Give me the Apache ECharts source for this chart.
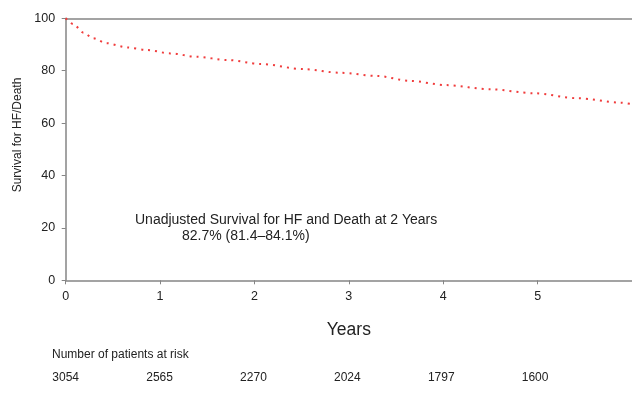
<!DOCTYPE html>
<html>
<head>
<meta charset="utf-8">
<script src="https://cdn.jsdelivr.net/npm/echarts@6/dist/echarts.min.js"></script>
<style>
html,body{margin:0;padding:0;background:#fff;}
#chart{width:632px;height:398px;}
</style>
</head>
<body>
<div id="chart"></div>
<script>
// Data
var years = [0, 0.08, 0.19, 0.29, 0.43, 0.65, 0.86, 1.11, 1.39, 1.71, 2.06, 2.52, 2.91, 3.30, 3.65, 4.03, 4.50, 4.96, 5.42, 5.88, 6.0];
var survival = [100, 97.8, 94.5, 92.4, 90.5, 88.9, 87.9, 86.6, 85.3, 84.1, 82.6, 80.6, 79.2, 78.0, 76.1, 74.5, 72.9, 71.4, 69.5, 67.8, 67.2];
var xTicks = [0, 1, 2, 3, 4, 5];
var yTicks = [0, 20, 40, 60, 80, 100];
var atRisk = [3054, 2565, 2270, 2024, 1797, 1600];
var atRiskTitle = 'Number of patients at risk';
var annotationLines = ['Unadjusted Survival for HF and Death at 2 Years', '82.7% (81.4\u201384.1%)'];

var FONT = '"Liberation Sans", Arial, Helvetica, sans-serif';
var TXT = '#222';
var AX = '#858585';

var chart = echarts.init(document.getElementById('chart'), null, {renderer: 'canvas'});

var option = {
  animation: false,
  backgroundColor: '#fff',
  textStyle: {fontFamily: FONT},
  grid: [
    {left: 65.7, right: 0, top: 18.3, bottom: 117.7, containLabel: false},
    {left: 65.7, right: 0, top: 368, height: 1, containLabel: false}
  ],
  xAxis: [
    {
      type: 'value', gridIndex: 0, min: 0, max: 6, interval: 1,
      name: 'Years', nameLocation: 'middle', nameGap: 41,
      nameTextStyle: {fontSize: 17.5, color: TXT, fontFamily: FONT},
      axisLine: {show: true, onZero: false, lineStyle: {color: AX, width: 1.5}},
      axisTick: {show: true, length: 4, customValues: xTicks, lineStyle: {color: AX, width: 1}},
      axisLabel: {
        fontSize: 12.5, color: TXT, fontFamily: FONT, margin: 10,
        customValues: xTicks,
        formatter: function (v) { return String(v); }
      },
      splitLine: {show: false}
    },
    {
      type: 'value', gridIndex: 0, position: 'top', min: 0, max: 6,
      axisLine: {show: true, onZero: false, lineStyle: {color: AX, width: 1.5}},
      axisTick: {show: false}, axisLabel: {show: false}, splitLine: {show: false}
    },
    {
      type: 'value', gridIndex: 1, min: 0, max: 6, interval: 1,
      axisLine: {show: false}, axisTick: {show: false}, splitLine: {show: false},
      axisLabel: {
        fontSize: 12, color: TXT, fontFamily: FONT, margin: 3,
        formatter: function (v) { return atRisk[v] !== undefined ? String(atRisk[v]) : ''; }
      }
    }
  ],
  yAxis: [
    {
      type: 'value', gridIndex: 0, min: 0, max: 100, interval: 20,
      axisLine: {show: true, onZero: false, lineStyle: {color: AX, width: 1.5}},
      axisTick: {show: true, length: 4, lineStyle: {color: AX, width: 1}},
      axisLabel: {
        fontSize: 12.5, color: TXT, fontFamily: FONT, margin: 10.5,
        formatter: function (v) { return yTicks.indexOf(v) >= 0 ? String(v) : ''; }
      },
      splitLine: {show: false}
    },
    {
      type: 'value', gridIndex: 1, min: 0, max: 1,
      axisLine: {show: false}, axisTick: {show: false}, axisLabel: {show: false}, splitLine: {show: false}
    }
  ],
  series: [
    {
      type: 'line',
      xAxisIndex: 0, yAxisIndex: 0,
      data: years.map(function (x, i) { return [x, survival[i]]; }),
      showSymbol: false,
      smooth: 0.3,
      smoothMonotone: 'x',
      lineStyle: {color: '#f03c3c', width: 2, type: [2, 5]}
    }
  ],
  graphic: [
    {
      type: 'text', position: [17.5, 135], rotation: Math.PI / 2,
      style: {text: 'Survival for HF/Death', fontSize: 12, fill: TXT, fontFamily: FONT,
              align: 'center', verticalAlign: 'middle', x: 0, y: 0}
    },
    {
      type: 'text', position: [135, 220],
      style: {text: annotationLines[0], fontSize: 14, fill: TXT, fontFamily: FONT,
              align: 'left', verticalAlign: 'middle'}
    },
    {
      type: 'text', position: [182, 236],
      style: {text: annotationLines[1], fontSize: 14, fill: TXT, fontFamily: FONT,
              align: 'left', verticalAlign: 'middle'}
    },
    {
      type: 'text', position: [52, 355],
      style: {text: atRiskTitle, fontSize: 12, fill: TXT, fontFamily: FONT,
              align: 'left', verticalAlign: 'middle'}
    }
  ]
};
chart.setOption(option);
</script>
</body>
</html>
